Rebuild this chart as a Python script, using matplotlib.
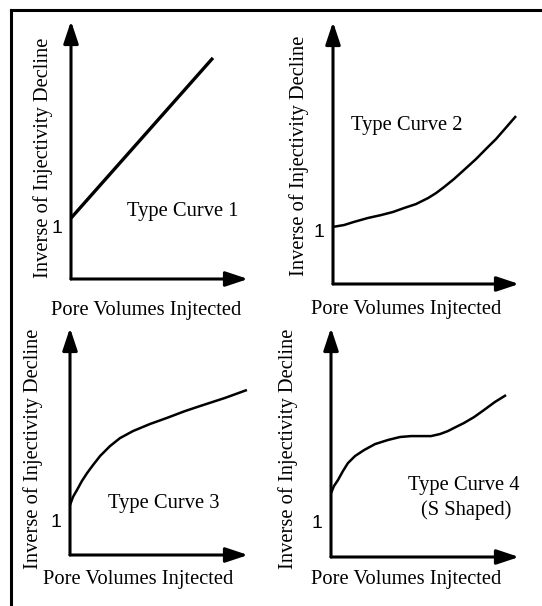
import matplotlib.pyplot as plt
from matplotlib.lines import Line2D

# pore volumes injected (arbitrary 0-10 scale) vs inverse of injectivity decline
pv1 = [0.0, 8.02]
inv1 = [2.36, 8.57]

pv2 = [0.0, 0.59, 1.13, 1.88, 2.58, 3.23, 3.82, 4.46, 5.11, 5.54, 5.97, 6.51, 7.04,
       7.69, 8.33, 8.76, 9.19, 9.52, 9.84]
inv2 = [2.18, 2.25, 2.37, 2.52, 2.63, 2.75, 2.90, 3.05, 3.28, 3.47, 3.70, 4.01, 4.35,
        4.77, 5.23, 5.53, 5.88, 6.15, 6.41]

pv3 = [0.0, 0.17, 0.39, 0.67, 0.96, 1.29, 1.69, 2.25, 2.81, 3.54, 4.49, 5.45, 6.46,
       7.30, 8.71, 9.94]
inv3 = [2.20, 2.56, 2.86, 3.26, 3.61, 3.96, 4.36, 4.80, 5.15, 5.46, 5.77, 6.04, 6.34,
        6.56, 6.92, 7.27]

pv4 = [0.0, 0.16, 0.37, 0.64, 0.90, 1.28, 1.76, 2.34, 3.03, 3.67, 4.26, 4.79, 5.32,
       5.80, 6.22, 6.65, 7.07, 7.61, 8.14, 8.72, 9.31]
inv4 = [2.79, 3.10, 3.36, 3.76, 4.10, 4.41, 4.67, 4.93, 5.11, 5.24, 5.28, 5.28, 5.28,
        5.37, 5.50, 5.68, 5.85, 6.11, 6.42, 6.77, 7.07]

one_level = [2.03, 2.03, 1.50, 1.57]
curve_names = [["Type Curve 1"], ["Type Curve 2"], ["Type Curve 3"], ["Type Curve 4", "(S Shaped)"]]

xlab = "Pore Volumes Injtected"
ylab = "Inverse of Injectivity Decline"

W, H = 542, 606
fig = plt.figure(figsize=(W / 100, H / 100), dpi=100)

serif = "Liberation Serif"
fs = 14.8

# panel boxes in pixels: left, right, top, bottom
boxes = [(71, 248, 21, 279), (333, 519, 22, 284), (70, 248, 328, 555), (331, 519, 328, 557)]
series = [(pv1, inv1, 2.4), (pv2, inv2, 1.8), (pv3, inv3, 1.8), (pv4, inv4, 1.8)]
ylab_pos = [(-0.158, 0.469), (-0.183, 0.490), (-0.208, 0.469), (-0.229, 0.474)]
xlab_pos = [(0.427, -0.124), (0.392, -0.099), (0.382, -0.110), (0.399, -0.100)]
name_pos = [[(0.633, 0.262)], [(0.398, 0.605)], [(0.528, 0.229)], [(0.705, 0.314), (0.718, 0.205)]]

for i, (l, r, t, b) in enumerate(boxes):
    ax = fig.add_axes([l / W, 1 - b / H, (r - l) / W, (b - t) / H])
    ax.set_xlim(0, 10)
    ax.set_ylim(0, 10)
    for s in ax.spines.values():
        s.set_visible(False)
    ax.set_xticks([])
    ax.set_yticks([one_level[i]], ["1"])
    ax.tick_params(axis="y", length=0, pad=6, labelsize=14)
    for lab in ax.get_yticklabels():
        lab.set_family("Liberation Sans")

    # axes drawn as arrows
    arrow = dict(arrowstyle="-|>,head_length=1.35,head_width=0.45", lw=2.2,
                 color="black", shrinkA=0, shrinkB=0, mutation_scale=10)
    ax.annotate("", xy=(1, 0), xytext=(0, 0), xycoords="axes fraction",
                textcoords="axes fraction", arrowprops=arrow)
    ax.annotate("", xy=(0, 1), xytext=(0, 0), xycoords="axes fraction",
                textcoords="axes fraction", arrowprops=arrow)

    x, y, lw = series[i]
    ax.plot(x, y, color="black", lw=lw, solid_joinstyle="round", solid_capstyle="butt", clip_on=False)

    ax.set_xlabel(xlab, family=serif, fontsize=fs, va="center", ha="center")
    ax.xaxis.set_label_coords(*xlab_pos[i])
    ax.set_ylabel(ylab, family=serif, fontsize=fs, va="center", ha="center")
    ax.yaxis.set_label_coords(*ylab_pos[i])

    for txt, (tx, ty) in zip(curve_names[i], name_pos[i]):
        ax.text(tx, ty, txt, transform=ax.transAxes, family=serif, fontsize=fs,
                ha="center", va="center")

# frame lines on top and left
fig.add_artist(Line2D([11 / W, 1], [1 - 10 / H, 1 - 10 / H], color="black", lw=2.2))
fig.add_artist(Line2D([11 / W, 11 / W], [0, 1 - 10 / H], color="black", lw=2.2))

fig.savefig("out.png", dpi=100)
